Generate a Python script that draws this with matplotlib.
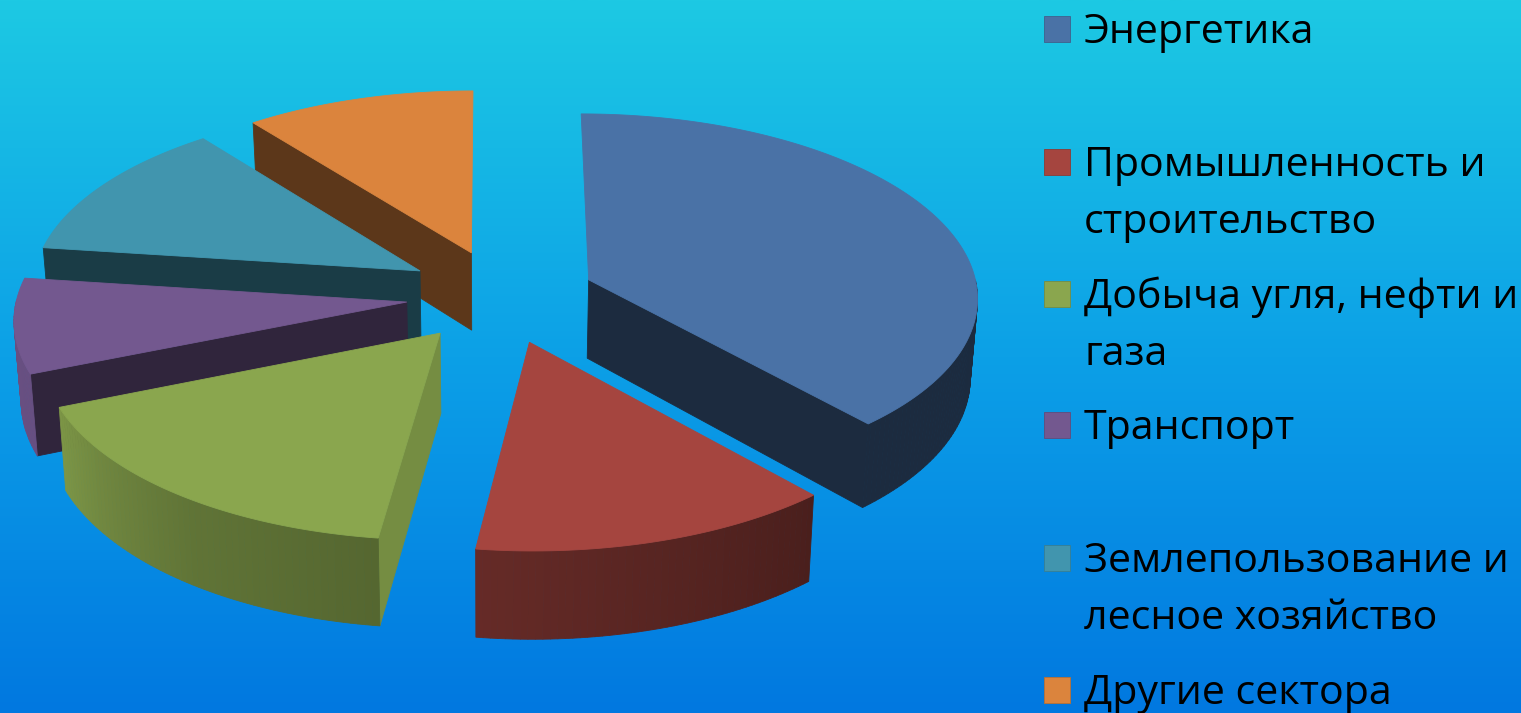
"""Greenhouse gas emissions by sector: exploded 3D pie on a blue gradient."""
import numpy as np
import matplotlib
matplotlib.use('Agg')
import matplotlib.pyplot as plt
from matplotlib.colors import LinearSegmentedColormap, to_rgb
from matplotlib.patches import Polygon, Rectangle

# Data
sectors = ['Энергетика', 'Промышленность и\nстроительство', 'Добыча угля, нефти и\nгаза',
           'Транспорт', 'Землепользование и\nлесное хозяйство', 'Другие сектора']
shares = [38.5, 13.6, 16.7, 8.3, 12.4, 10.5]

# Styles
colors = ['#4A72A6', '#A5453F', '#8AA64E', '#73588F', '#4195AE', '#DB843D']
explode_x = [0.250, 0.094, -0.131, -0.218, -0.187, -0.054]
explode_y = [0.100, -0.237, -0.189, -0.022, 0.150, 0.252]
wall_shade = [0.38, 0.50, 0.85, 0.42, 0.40, 0.42]
draw_order = [5, 4, 0, 3, 2, 1]
legend_y = [29, 162, 294, 425, 558, 690]

W, H = 1521, 713
CX, CY = 492, 298
RX, RY = 390, 183
PERSP = 0.085
DEPTH = 79
BOTTOM_SHRINK = 0.985


def project(x, y, bottom=False):
    """Disk coordinates (y pointing away from the viewer) to canvas pixels."""
    s = 1.0 / (1.0 + PERSP * y)
    k = BOTTOM_SHRINK if bottom else 1.0
    px = CX + RX * x * s * k
    py = CY - RY * y * s + (DEPTH * s if bottom else 0.0)
    return px, py


def outer_shade(theta):
    """Brightness of the rim, clockwise degrees from the top."""
    return np.interp(theta, [0, 138, 138.5, 188, 215, 247, 290, 360],
                     [0.38, 0.38, 0.45, 0.62, 0.70, 0.90, 0.90, 0.40])


def darker(color, f):
    return tuple(c * f for c in to_rgb(color))


def add_face(ax, xs, ys, color):
    ax.add_patch(Polygon(np.column_stack([xs, ys]), closed=True, facecolor=color,
                         edgecolor=color, linewidth=0.6))


def draw_slice(ax, start, end, ox, oy, color, shade):
    theta = np.arange(start, end + 0.5, 1.0)
    theta[-1] = end
    rad = np.radians(theta)
    rim_x = ox + np.sin(rad)
    rim_y = oy + np.cos(rad)

    # radial walls, only the ones facing the viewer
    for a, facing in ((rad[0], np.sin(rad[0]) < -1e-6), (rad[-1], np.sin(rad[-1]) > 1e-6)):
        if not facing:
            continue
        x = np.array([ox, ox + np.sin(a)])
        y = np.array([oy, oy + np.cos(a)])
        tx, ty = project(x, y)
        bx, by = project(x, y, bottom=True)
        add_face(ax, np.r_[tx, bx[::-1]], np.r_[ty, by[::-1]], darker(color, shade))

    # rim, split up so the shading can change along it; the back half stays hidden
    tx, ty = project(rim_x, rim_y)
    bx, by = project(rim_x, rim_y, bottom=True)
    for i in range(len(theta) - 1):
        if np.cos(rad[i]) > 0 and np.cos(rad[i + 1]) > 0:
            continue
        c = darker(color, outer_shade(theta[i]))
        add_face(ax, [tx[i], tx[i + 1], bx[i + 1], bx[i]],
                 [ty[i], ty[i + 1], by[i + 1], by[i]], c)

    # top face
    ax0, ay0 = project(np.array([ox]), np.array([oy]))
    add_face(ax, np.r_[ax0, tx], np.r_[ay0, ty], color)


def main():
    plt.rcParams['font.family'] = ['Open Sans', 'DejaVu Sans']

    fig = plt.figure(figsize=(W / 100, H / 100), dpi=100)
    ax = fig.add_axes([0, 0, 1, 1])
    ax.set_xlim(0, W)
    ax.set_ylim(H, 0)
    ax.axis('off')

    bg = LinearSegmentedColormap.from_list('bg', [(0, '#1DC9E3'), (0.5, '#0CA0E7'), (1, '#0178E0')])
    ax.imshow(np.linspace(0, 1, 256).reshape(-1, 1), cmap=bg, extent=[0, W, H, 0],
              aspect='auto', zorder=0)

    angles = np.r_[0, np.cumsum(shares)] / sum(shares) * 360
    for i in draw_order:
        draw_slice(ax, angles[i], angles[i + 1], explode_x[i], explode_y[i], colors[i], wall_shade[i])

    # legend
    for i, label in enumerate(sectors):
        y = legend_y[i]
        ax.add_patch(Rectangle((1044, y - 13), 26, 26, facecolor=colors[i],
                               edgecolor=darker(colors[i], 0.85), linewidth=0.6))
        lines = label.split('\n')
        for j, line in enumerate(lines):
            ax.text(1084, y + 14 + j * 57, line, fontsize=29.6, color='black',
                    ha='left', va='baseline')

    fig.savefig('out.png', dpi=100)
    plt.close(fig)


if __name__ == '__main__':
    main()
